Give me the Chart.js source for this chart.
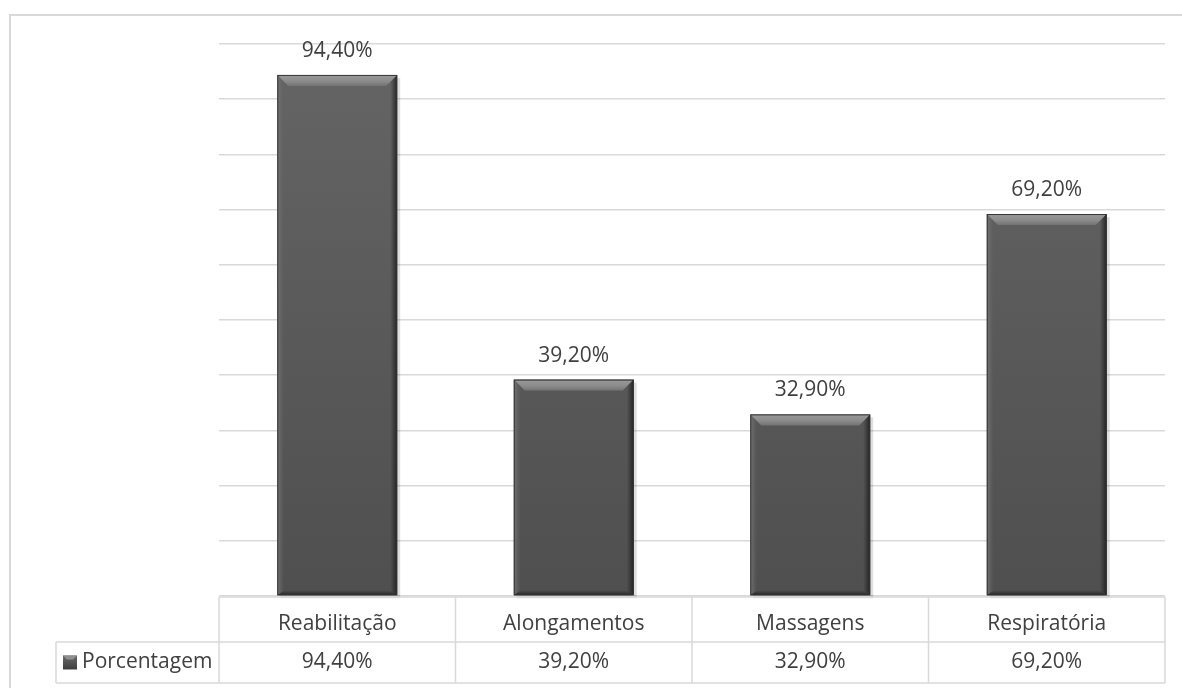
<!DOCTYPE html>
<html>
<head>
<meta charset="utf-8">
<script src="https://cdn.jsdelivr.net/npm/chart.js@4.4.1/dist/chart.umd.min.js"></script>
<style>
    html, body { margin: 0; padding: 0; background: #ffffff; }
    #wrap { position: relative; width: 1182px; height: 688px; }
</style>
</head>
<body>
<div id="wrap"><canvas id="grafico"></canvas></div>
<script>
// Datos
const categorias = ['Reabilitação', 'Alongamentos', 'Massagens', 'Respiratória'];
const porcentajes = [94.4, 39.2, 32.9, 69.2];
const serieNombre = 'Porcentagem';
const ejeMin = 0;
const ejeMax = 100;
const ejePaso = 10;

const colorTexto = '#404040';
const colorLinea = '#d9d9d9';
const fuente = '"Open Sans", sans-serif';
const tamTexto = 21;

function fmt(v) {
    return v.toFixed(2).replace('.', ',') + '%';
}

// Relleno vertical de la barra
function rellenoBarra(ctx) {
    const chart = ctx.chart;
    const area = chart.chartArea;
    if (!area) return '#595959';
    const g = chart.ctx.createLinearGradient(0, area.top, 0, area.bottom);
    g.addColorStop(0, '#656565');
    g.addColorStop(1, '#4f4f4f');
    return g;
}

// Borde exterior (solo arriba e izquierda visibles)
const marcoExterior = {
    id: 'marcoExterior',
    beforeDraw(chart) {
        const c = chart.ctx;
        c.save();
        c.strokeStyle = colorLinea;
        c.lineWidth = 2;
        c.beginPath();
        c.moveTo(10, chart.height);
        c.lineTo(10, 15);
        c.lineTo(chart.width, 15);
        c.stroke();
        c.restore();
    }
};

// Biselado de las barras + etiquetas de valor
const biselBarras = {
    id: 'biselBarras',
    afterDatasetsDraw(chart) {
        const c = chart.ctx;
        const meta = chart.getDatasetMeta(0);
        c.save();
        meta.data.forEach((bar, i) => {
            const w = bar.width;
            const l = bar.x - w / 2, r = bar.x + w / 2;
            const t = bar.y, b = bar.base;
            const bv = 11;

            // sombra
            c.fillStyle = 'rgba(0,0,0,0.13)';
            c.fillRect(r, t + 3, 3, b - t - 1);
            c.fillRect(l + 3, b, w, 3);

            // bisel superior
            let g = c.createLinearGradient(0, t, 0, t + bv);
            g.addColorStop(0, '#9a9a9a');
            g.addColorStop(0.6, '#8a8a8a');
            g.addColorStop(1, '#737373');
            c.fillStyle = g;
            c.beginPath();
            c.moveTo(l, t); c.lineTo(r, t); c.lineTo(r - bv, t + bv); c.lineTo(l + bv, t + bv);
            c.closePath(); c.fill();

            // bisel izquierdo
            g = c.createLinearGradient(l, 0, l + 7, 0);
            g.addColorStop(0, 'rgba(120,120,120,0.9)');
            g.addColorStop(1, 'rgba(100,100,100,0)');
            c.fillStyle = g;
            c.beginPath();
            c.moveTo(l, t); c.lineTo(l + bv, t + bv); c.lineTo(l + 7, b - 5); c.lineTo(l, b);
            c.closePath(); c.fill();

            // bisel derecho
            g = c.createLinearGradient(r - 7, 0, r, 0);
            g.addColorStop(0, 'rgba(40,40,40,0)');
            g.addColorStop(1, 'rgba(30,30,30,0.95)');
            c.fillStyle = g;
            c.beginPath();
            c.moveTo(r, t); c.lineTo(r, b); c.lineTo(r - 7, b - 5); c.lineTo(r - bv, t + bv);
            c.closePath(); c.fill();

            // bisel inferior
            g = c.createLinearGradient(0, b - 5, 0, b);
            g.addColorStop(0, 'rgba(40,40,40,0)');
            g.addColorStop(1, 'rgba(30,30,30,0.9)');
            c.fillStyle = g;
            c.beginPath();
            c.moveTo(l, b); c.lineTo(l + 7, b - 5); c.lineTo(r - 7, b - 5); c.lineTo(r, b);
            c.closePath(); c.fill();

            // contorno
            c.strokeStyle = '#353535';
            c.lineWidth = 1;
            c.strokeRect(l + 0.5, t + 0.5, w - 1, b - t - 1);

            // etiqueta
            c.fillStyle = colorTexto;
            c.font = tamTexto + 'px ' + fuente;
            c.textAlign = 'center';
            c.textBaseline = 'middle';
            c.fillText(fmt(porcentajes[i]), bar.x, t - 24);
        });
        c.restore();
    }
};

// Tabla de datos bajo el eje
const tablaDatos = {
    id: 'tablaDatos',
    afterDraw(chart) {
        const c = chart.ctx;
        const x = chart.scales.x;
        const area = chart.chartArea;
        const top = area.bottom + 1;
        const mid = top + 45;
        const bot = mid + 41;
        const izq = 56;
        const n = categorias.length;
        const paso = (area.right - area.left) / n;

        c.save();
        c.strokeStyle = colorLinea;
        c.lineWidth = 1.5;
        c.beginPath();
        c.moveTo(area.left, top); c.lineTo(area.right, top);
        c.moveTo(izq, mid); c.lineTo(area.right, mid);
        c.moveTo(izq, bot); c.lineTo(area.right, bot);
        for (let i = 0; i <= n; i++) {
            const xx = area.left + paso * i;
            c.moveTo(xx, top); c.lineTo(xx, bot);
        }
        c.moveTo(izq, mid); c.lineTo(izq, bot);
        c.stroke();

        c.fillStyle = colorTexto;
        c.font = tamTexto + 'px ' + fuente;
        c.textAlign = 'center';
        c.textBaseline = 'middle';
        const yFila = (mid + bot) / 2;
        porcentajes.forEach((v, i) => {
            c.fillText(fmt(v), x.getPixelForValue(i), yFila);
        });

        // marcador de leyenda
        const mx = 63, my = yFila - 7, ms = 14;
        const g = c.createLinearGradient(0, my, 0, my + ms);
        g.addColorStop(0, '#6a6a6a');
        g.addColorStop(1, '#3e3e3e');
        c.fillStyle = g;
        c.fillRect(mx, my, ms, ms);
        c.fillStyle = '#8f8f8f';
        c.beginPath();
        c.moveTo(mx, my); c.lineTo(mx + ms, my); c.lineTo(mx + ms - 4, my + 4); c.lineTo(mx + 4, my + 4);
        c.closePath(); c.fill();

        c.fillStyle = colorTexto;
        c.textAlign = 'left';
        c.fillText(serieNombre, 82, yFila);
        c.restore();
    }
};

const ctx = document.getElementById('grafico').getContext('2d');
const grafico = new Chart(ctx, {
    type: 'bar',
    data: {
        labels: categorias,
        datasets: [{
            label: serieNombre,
            data: porcentajes,
            backgroundColor: rellenoBarra,
            borderWidth: 0,
            barPercentage: 0.507,
            categoryPercentage: 1
        }]
    },
    options: {
        responsive: true,
        maintainAspectRatio: false,
        animation: false,
        layout: {
            padding: { left: 219, right: 17, top: 44, bottom: 0 }
        },
        plugins: {
            legend: { display: false },
            tooltip: { enabled: false }
        },
        scales: {
            x: {
                grid: { display: false },
                border: { display: false },
                ticks: {
                    color: colorTexto,
                    font: { family: fuente, size: tamTexto },
                    padding: 7,
                    maxRotation: 0,
                    autoSkip: false
                },
                afterFit: (scale) => { scale.height = 92; }
            },
            y: {
                min: ejeMin,
                max: ejeMax,
                ticks: { display: false, stepSize: ejePaso },
                grid: { color: colorLinea, lineWidth: 1.5, drawTicks: false },
                border: { display: false },
                afterFit: (scale) => { scale.width = 0; }
            }
        }
    },
    plugins: [marcoExterior, biselBarras, tablaDatos]
});
</script>
</body>
</html>
